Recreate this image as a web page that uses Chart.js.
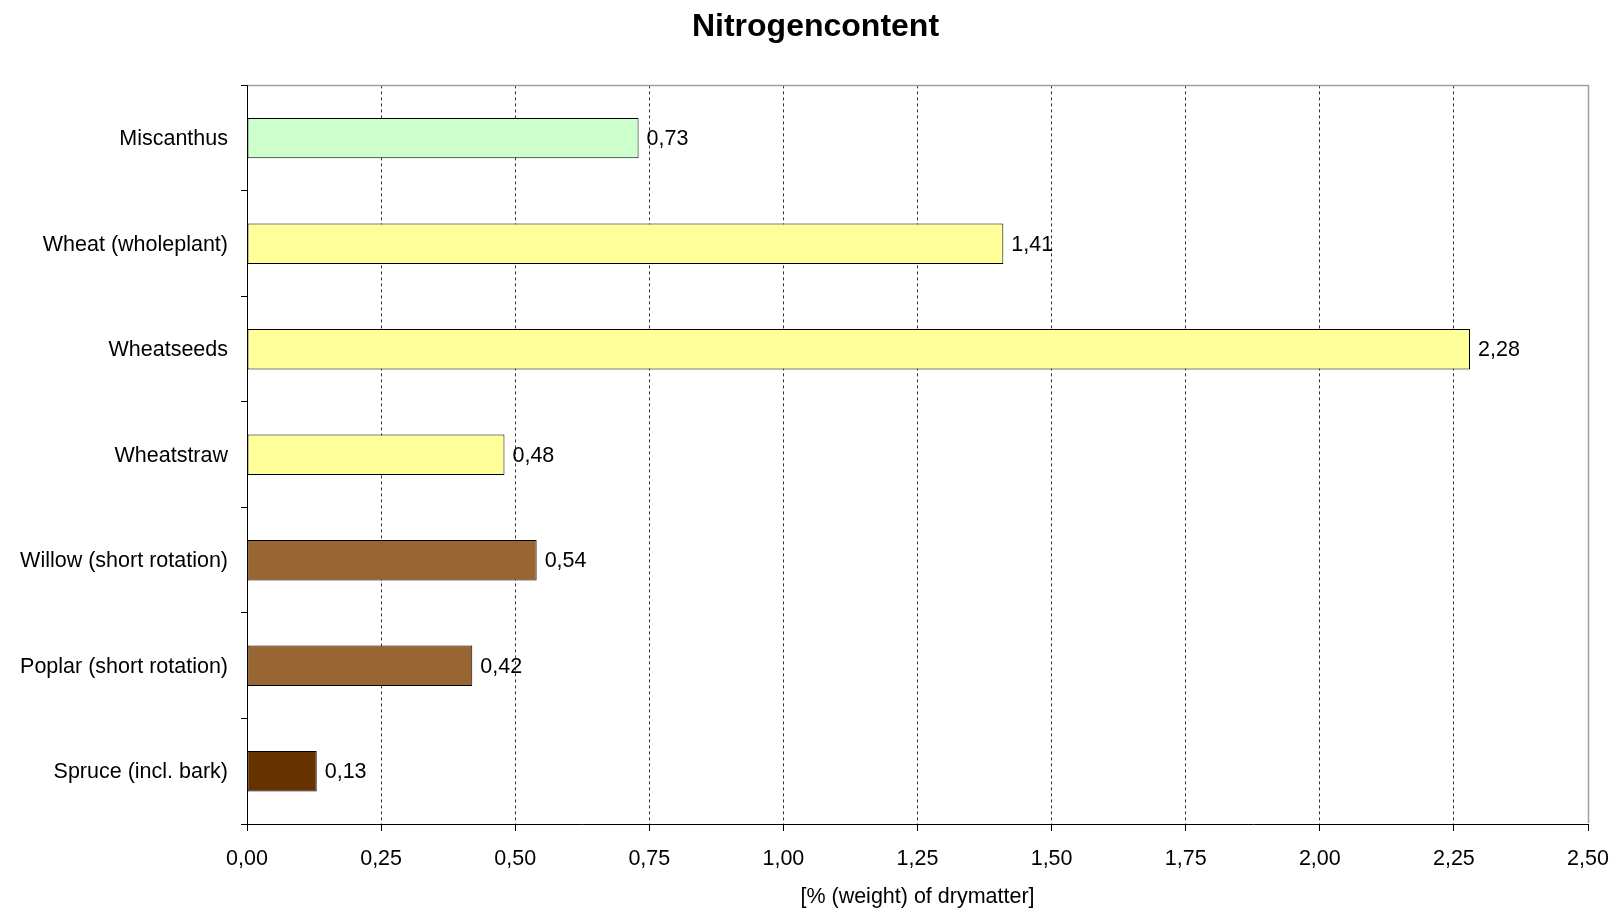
<!DOCTYPE html>
<html>
<head>
<meta charset="utf-8">
<title>Nitrogencontent</title>
<script src="https://cdn.jsdelivr.net/npm/chart.js@4/dist/chart.umd.min.js"></script>
<style>
    html, body { margin: 0; padding: 0; background: #fff; }
    canvas { display: block; }
</style>
</head>
<body>
<canvas id="nitrogen-chart" width="1619" height="910"></canvas>
<script>
// fuels and their nitrogen content, % of dry matter
const categories = [
    'Miscanthus',
    'Wheat (wholeplant)',
    'Wheatseeds',
    'Wheatstraw',
    'Willow (short rotation)',
    'Poplar (short rotation)',
    'Spruce (incl. bark)'
];
const nitrogen = [0.73, 1.41, 2.28, 0.48, 0.54, 0.42, 0.13];
const barColors = ['#CCFFCC', '#FFFF99', '#FFFF99', '#FFFF99', '#996633', '#996633', '#663300'];
const xTickValues = [0, 0.25, 0.5, 0.75, 1, 1.25, 1.5, 1.75, 2, 2.25, 2.5];

const FONT = "'Liberation Sans', Arial, sans-serif";

// decimal comma, two digits
function fmt(v) {
    return Number(v).toFixed(2).replace('.', ',');
}

// value next to the end of every bar
const valueLabels = {
    id: 'valueLabels',
    afterDatasetsDraw(chart) {
        const ctx = chart.ctx;
        const meta = chart.getDatasetMeta(0);
        ctx.save();
        ctx.font = '21.5px ' + FONT;
        ctx.fillStyle = '#000';
        ctx.textAlign = 'left';
        ctx.textBaseline = 'middle';
        meta.data.forEach((bar, i) => {
            ctx.fillText(fmt(chart.data.datasets[0].data[i]), bar.x + 8, bar.y + 1);
        });
        ctx.restore();
    }
};

// grey frame on top and right of the plot area,
// and the title block nudged right a little
const plotFrame = {
    id: 'plotFrame',
    afterLayout(chart) {
        if (chart.titleBlock) {
            chart.titleBlock.left += 43;
        }
    },
    afterDraw(chart) {
        const a = chart.chartArea;
        const ctx = chart.ctx;
        ctx.save();
        ctx.strokeStyle = '#a0a0a0';
        ctx.lineWidth = 1.5;
        ctx.beginPath();
        ctx.moveTo(Math.round(a.left) + 1, Math.round(a.top) + 0.5);
        ctx.lineTo(Math.round(a.right) + 0.5, Math.round(a.top) + 0.5);
        ctx.lineTo(Math.round(a.right) + 0.5, Math.round(a.bottom) - 1);
        ctx.stroke();
        ctx.restore();
    }
};

const chart = new Chart(document.getElementById('nitrogen-chart'), {
    type: 'bar',
    data: {
        labels: categories,
        datasets: [{
            label: 'Nitrogencontent',
            data: nitrogen,
            backgroundColor: barColors,
            borderColor: '#000',
            borderWidth: 1,
            borderSkipped: false,
            categoryPercentage: 1,
            barPercentage: 0.383
        }]
    },
    plugins: [valueLabels, plotFrame],
    options: {
        indexAxis: 'y',
        responsive: false,
        animation: false,
        layout: {
            padding: { left: 0, right: 31, top: 0, bottom: 0 }
        },
        plugins: {
            legend: { display: false },
            tooltip: { enabled: false },
            title: {
                display: true,
                text: 'Nitrogencontent',
                color: '#000',
                font: { family: FONT, size: 32, weight: 'bold', lineHeight: 1.2 },
                padding: { top: 8, bottom: 39 }
            }
        },
        scales: {
            x: {
                min: 0,
                max: 2.5,
                afterBuildTicks: (scale) => {
                    scale.ticks = xTickValues.map(v => ({ value: v }));
                },
                afterFit: (scale) => {
                    scale.height = 86;
                    // the end labels may hang past the plot edge
                    scale.paddingLeft = 0;
                    scale.paddingRight = 0;
                },
                ticks: {
                    autoSkip: false,
                    maxRotation: 0,
                    padding: 15,
                    color: '#000',
                    font: { family: FONT, size: 21.5 },
                    callback: (v) => fmt(v)
                },
                grid: {
                    color: (c) => (c.tick && (c.tick.value === 0 || c.tick.value === 2.5)) ? 'rgba(0,0,0,0)' : '#333',
                    lineWidth: 1,
                    tickLength: 7,
                    tickColor: '#000',
                    tickBorderDash: []
                },
                border: {
                    color: '#000',
                    width: 1,
                    dash: [3, 3]
                },
                title: {
                    display: true,
                    text: '[% (weight) of drymatter]',
                    color: '#000',
                    font: { family: FONT, size: 21.5, lineHeight: 1.2 },
                    padding: { top: 0, bottom: 0 }
                }
            },
            y: {
                afterFit: (scale) => { scale.width = 247; },
                ticks: {
                    padding: 13,
                    labelOffset: 1,
                    color: '#000',
                    font: { family: FONT, size: 21.5 }
                },
                grid: {
                    offset: true,
                    drawOnChartArea: false,
                    tickLength: 6,
                    tickColor: '#000',
                    color: '#000'
                },
                border: {
                    color: '#000',
                    width: 1
                }
            }
        }
    }
});
</script>
</body>
</html>
